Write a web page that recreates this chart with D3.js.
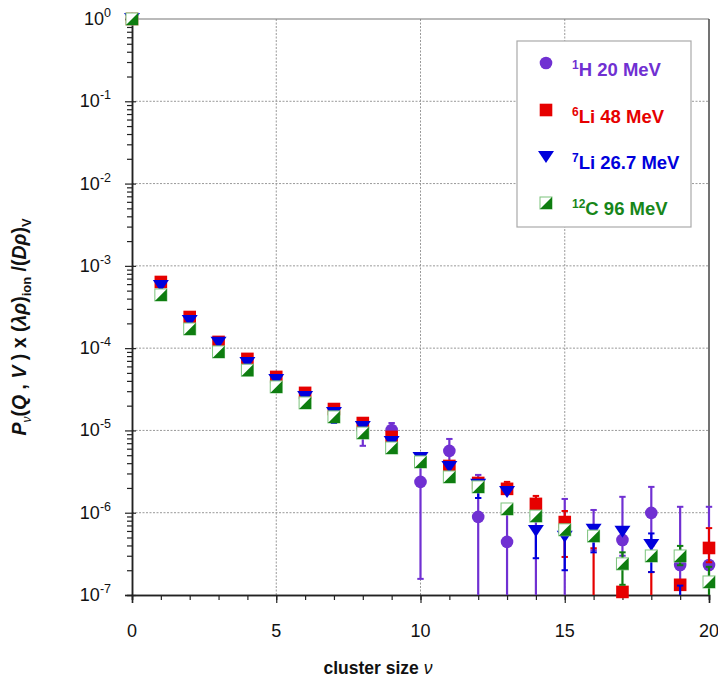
<!DOCTYPE html>
<html><head><meta charset="utf-8">
<script src="https://cdn.jsdelivr.net/npm/d3@7"></script>
<style>body{margin:0;background:#fff}svg{display:block;font-family:"Liberation Sans",Arial,sans-serif}</style>
</head><body><svg id="c" width="718" height="682"></svg>
<script>
// ---- data ----
const nu = [0,1,2,3,4,5,6,7,8,9,10,11,12,13,14,15,16,17,18,19,20];
const hVal  = [1,null,null,null,null,null,null,null,1.01e-5,1.01e-5,2.37e-6,5.64e-6,8.89e-7,4.42e-7,9.1e-7,6.2e-7,5.2e-7,4.67e-7,9.95e-7,2.32e-7,2.32e-7];
const hLo   = [null,null,null,null,null,null,null,null,6.5e-6,8.5e-6,1.57e-7,3.5e-6,1e-8,1e-8,1e-8,1e-8,3.5e-7,3.0e-7,4e-7,1.4e-7,1.5e-7];
const hHi   = [null,null,null,null,null,null,null,null,1.1e-5,1.23e-5,4.5e-6,7.88e-6,2.88e-6,1.1e-6,1.2e-6,1.47e-6,1.08e-6,1.56e-6,2.06e-6,1.18e-6,1.18e-6];
const li6Val = [1,6.37e-4,2.39e-4,1.19e-4,7.4e-5,4.47e-5,2.86e-5,1.82e-5,1.23e-5,8.34e-6,null,3.7e-6,2.3e-6,1.95e-6,1.28e-6,7.7e-7,5e-8,1.09e-7,5e-8,1.33e-7,3.73e-7];
const li6Lo  = [null,null,null,null,null,null,null,null,null,null,null,null,null,null,null,2.9e-7,1e-8,null,1e-8,null,2.5e-7];
const li6Hi  = [null,null,null,null,null,null,null,null,null,null,null,null,null,2.37e-6,1.6e-6,1.05e-6,3.7e-7,null,1.9e-7,null,6.5e-7];
const li7Val = [1,5.7e-4,2.14e-4,1.16e-4,6.6e-5,4.1e-5,2.55e-5,1.63e-5,1.10e-5,7.24e-6,4.63e-6,3.6e-6,2.18e-6,1.79e-6,6.0e-7,5.1e-7,6.2e-7,5.85e-7,4.06e-7,5e-8,null];
const li7Lo  = [null,null,null,null,null,null,null,1.23e-5,null,null,null,null,1.51e-6,null,2.8e-7,2.0e-7,3.3e-7,null,1.9e-7,1e-8,null];
const li7Hi  = [null,null,null,null,null,null,null,null,null,null,null,null,null,null,null,null,null,null,5.6e-7,1.3e-7,null];
const c12Val = [1,4.43e-4,1.71e-4,9.0e-5,5.4e-5,3.38e-5,2.16e-5,1.46e-5,9.3e-6,6.12e-6,4.14e-6,2.72e-6,2.06e-6,1.11e-6,9.1e-7,6.2e-7,5.2e-7,2.39e-7,2.98e-7,2.98e-7,1.44e-7];
const c12Lo  = [null,null,null,null,null,null,null,null,null,null,null,null,null,null,null,null,null,1.33e-7,null,2.3e-7,1e-8];
const c12Hi  = [null,null,null,null,null,null,null,null,null,null,null,null,null,null,null,null,null,3.3e-7,null,3.95e-7,2.2e-7];
const yTicks = [1e0,1e-1,1e-2,1e-3,1e-4,1e-5,1e-6,1e-7];
const yExp = ["0","-1","-2","-3","-4","-5","-6","-7"];
const xTicks = [0,5,10,15,20];
const seriesNames = ["1|H 20 MeV","6|Li 48 MeV","7|Li 26.7 MeV","12|C 96 MeV"];

// ---- setup ----
const svg = d3.select("#c");
const L=132,R=709,T=19,B=595;
const x = d3.scaleLinear().domain([0,20]).range([L,R]);
const y = d3.scaleLog().domain([1e-7,1]).range([B,T]);
const PURPLE="#7030d2", RED="#e60000", BLUE="#0000dc", GREEN="#0e7d10", GREENTXT="#17861a";

// gridlines
const g = svg.append("g");
yTicks.slice(1,7).forEach(v=>{
  g.append("line").attr("x1",L).attr("x2",R).attr("y1",y(v)).attr("y2",y(v))
   .attr("stroke","#999").attr("stroke-width",1).attr("stroke-dasharray","2,1.5");
});
[5,10,15].forEach(v=>{
  g.append("line").attr("x1",x(v)).attr("x2",x(v)).attr("y1",T).attr("y2",B)
   .attr("stroke","#999").attr("stroke-width",1).attr("stroke-dasharray","2,1.5");
});
// top and right frame
g.append("line").attr("x1",L).attr("x2",R).attr("y1",y(1)).attr("y2",y(1)).attr("stroke","#777").attr("stroke-width",1.2);
g.append("line").attr("x1",x(20)).attr("x2",x(20)).attr("y1",T).attr("y2",B).attr("stroke","#444").attr("stroke-width",1.5);

// axes
const minorY=[];
for(let e=-7;e<0;e++) for(let k=2;k<=9;k++) minorY.push(k*Math.pow(10,e));
const yMinor = svg.append("g").attr("transform",`translate(${L},0)`)
  .call(d3.axisLeft(y).tickValues(minorY).tickSize(5).tickFormat(""));
const yMajor = svg.append("g").attr("transform",`translate(${L},0)`)
  .call(d3.axisLeft(y).tickValues(yTicks).tickSize(7).tickFormat(""));
yMajor.selectAll(".tick line").attr("x2",-7).attr("x1",4);
const xMinor = svg.append("g").attr("transform",`translate(0,${B})`)
  .call(d3.axisBottom(x).tickValues(d3.range(0,21)).tickSize(5).tickFormat(""));
const xMajor = svg.append("g").attr("transform",`translate(0,${B})`)
  .call(d3.axisBottom(x).tickValues(xTicks).tickSize(8).tickFormat(""));
[yMinor,yMajor,xMinor,xMajor].forEach(a=>{
  a.selectAll(".domain").attr("stroke","#222").attr("stroke-width",1.5);
  a.selectAll(".tick line").attr("stroke","#222").attr("stroke-width",1.2);
});
// y labels
yTicks.forEach((v,i)=>{
  const t = svg.append("text").attr("x",111).attr("y",y(v)+6).attr("text-anchor","end")
    .attr("font-size",18).attr("fill","#111");
  t.append("tspan").text("10");
  t.append("tspan").attr("font-size",12.5).attr("dy",-8).text(yExp[i]);
});
// x labels
xTicks.forEach(v=>{
  svg.append("text").attr("x",x(v)).attr("y",637).attr("text-anchor","middle")
    .attr("font-size",18).attr("fill","#111").text(v);
});
// x title
const xt = svg.append("text").attr("x",378).attr("y",674).attr("text-anchor","middle")
  .attr("font-size",17.5).attr("font-weight","bold").attr("fill","#111");
xt.append("tspan").text("cluster size ");
xt.append("tspan").attr("font-style","italic").attr("font-weight","normal").text("ν");
// y title
const yt = svg.append("text").attr("transform","translate(26,327) rotate(-90)").attr("text-anchor","middle")
  .attr("font-size",19.5).attr("font-weight","bold").attr("fill","#111");
yt.append("tspan").attr("font-style","italic").text("P");
yt.append("tspan").attr("font-style","italic").attr("font-size",12).attr("dy",5).attr("font-weight","normal").text("ν");
yt.append("tspan").attr("dy",-5).text("(");
yt.append("tspan").attr("font-style","italic").text("Q");
yt.append("tspan").text(" , ");
yt.append("tspan").attr("font-style","italic").text("V");
yt.append("tspan").text(" ) x (");
yt.append("tspan").attr("font-style","italic").text("λρ");
yt.append("tspan").text(")");
yt.append("tspan").attr("font-size",13).attr("dy",5).text("ion");
yt.append("tspan").attr("dy",-5).text(" /(");
yt.append("tspan").attr("font-style","italic").text("Dρ");
yt.append("tspan").text(")");
yt.append("tspan").attr("font-size",13).attr("dy",5).text("V");

// markers
function marker(sel, type, cx, cy){
  if(type==="circle"){
    sel.append("circle").attr("cx",cx).attr("cy",cy).attr("r",6.3).attr("fill",PURPLE);
  } else if(type==="square"){
    sel.append("rect").attr("x",cx-6.3).attr("y",cy-6.3).attr("width",12.6).attr("height",12.6).attr("fill",RED);
  } else if(type==="tri"){
    sel.append("path").attr("d",`M${cx-8},${cy-6}L${cx+8},${cy-6}L${cx},${cy+6}Z`).attr("fill",BLUE);
  } else {
    sel.append("rect").attr("x",cx-6).attr("y",cy-6).attr("width",12).attr("height",12).attr("fill","#fff").attr("stroke","#7cc47c").attr("stroke-width",1);
    sel.append("path").attr("d",`M${cx-6},${cy+6}L${cx+6},${cy-6}L${cx+6},${cy+6}Z`).attr("fill",GREEN);
  }
}
const series = [
  {v:hVal,lo:hLo,hi:hHi,c:PURPLE,m:"circle"},
  {v:li6Val,lo:li6Lo,hi:li6Hi,c:RED,m:"square"},
  {v:li7Val,lo:li7Lo,hi:li7Hi,c:BLUE,m:"tri"},
  {v:c12Val,lo:c12Lo,hi:c12Hi,c:GREEN,m:"csq"}
];
const clampY = v => y(Math.max(v,1e-7));
series.forEach(s=>{
  const gs = svg.append("g");
  nu.forEach((n,i)=>{
    const val=s.v[i]; if(val==null) return;
    const cx=x(n);
    const pts=[];
    if(s.lo[i]!=null) pts.push(s.lo[i]);
    if(s.hi[i]!=null) pts.push(s.hi[i]);
    pts.forEach(p=>{
      const y1=clampY(val), y2=clampY(p);
      if(Math.abs(y1-y2)<0.5) return;
      gs.append("line").attr("x1",cx).attr("x2",cx).attr("y1",y1).attr("y2",y2).attr("stroke",s.c).attr("stroke-width",2.2);
      if(p>=1e-7) gs.append("line").attr("x1",cx-3.2).attr("x2",cx+3.2).attr("y1",y2).attr("y2",y2).attr("stroke",s.c).attr("stroke-width",2);
    });
  });
  nu.forEach((n,i)=>{
    const val=s.v[i]; if(val==null || val<1e-7) return;
    marker(gs, s.m, x(n), y(val));
  });
});

// legend
const lg = svg.append("g");
lg.append("rect").attr("x",517).attr("y",41).attr("width",174).attr("height",186).attr("fill","#fff").attr("stroke","#aaa").attr("stroke-width",1.2);
const legY=[63,110,157,203], legTY=[76,123,169,215];
const legTypes=["circle","square","tri","csq"], legCols=[PURPLE,RED,BLUE,GREENTXT];
seriesNames.forEach((nm,i)=>{
  marker(lg, legTypes[i], 546, legY[i]);
  const [sup,rest]=nm.split("|");
  const t=lg.append("text").attr("x",572).attr("y",legTY[i]).attr("font-size",18.5).attr("font-weight","bold").attr("fill",legCols[i]);
  t.append("tspan").attr("font-size",12).attr("dy",-7).text(sup);
  t.append("tspan").attr("dy",7).text(rest);
});
</script></body></html>
